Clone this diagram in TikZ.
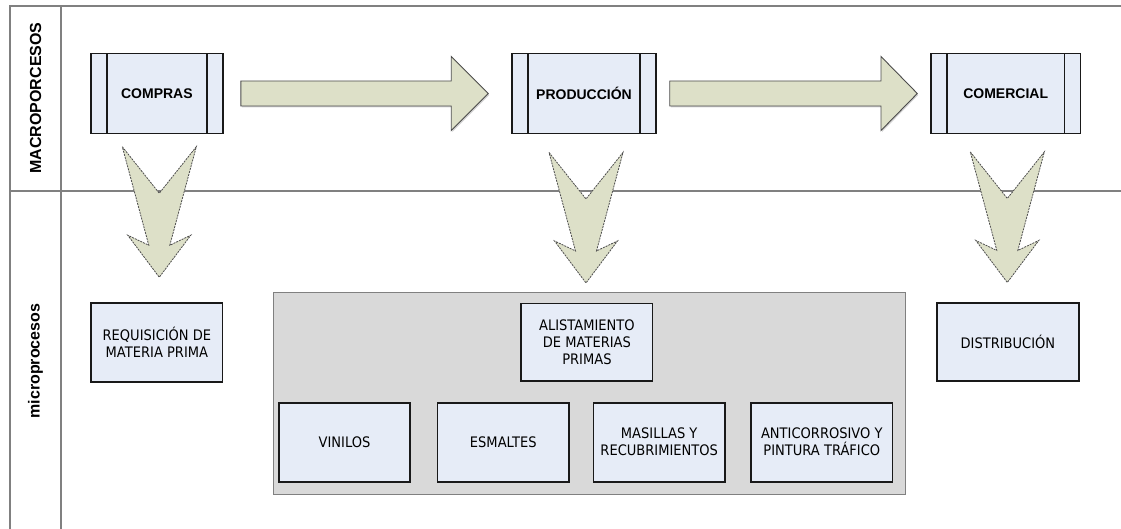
\documentclass[tikz,border=0pt]{standalone}
\usepackage{fontspec}
\setmainfont{Liberation Sans}
\newfontfamily\microfont[FakeStretch=0.9]{DejaVu Sans}
\usetikzlibrary{calc,shadows}
\definecolor{cajaazul}{RGB}{230,236,247}
\definecolor{flechaverde}{RGB}{221,224,200}
\definecolor{cajagris}{RGB}{217,217,217}
\definecolor{lineagris}{RGB}{128,128,128}
\tikzset{
proceso/.style={
macro/.style={draw=black!90, line width=1.5pt, fill=cajaazul, minimum height=80pt, inner sep=0pt,
  font=\fontsize{14}{16}\selectfont\bfseries,
  path picture={
    \draw[line width=1.5pt] ([xshift=16pt]path picture bounding box.north west) -- ([xshift=16pt]path picture bounding box.south west);
    \draw[line width=1.5pt] ([xshift=-16pt]path picture bounding box.north east) -- ([xshift=-16pt]path picture bounding box.south east);}},
micro/.style={draw=black!90, line width=1.6pt, fill=cajaazul, minimum width=131.5pt, minimum height=79pt,
  inner sep=0pt, align=center, font=\microfont\fontsize{14.5}{17}\selectfont},
fondo/.style={draw=lineagris, line width=1.3pt, fill=cajagris, inner sep=0pt},
carril/.style={rotate=90, font=\fontsize{16}{18}\selectfont\bfseries},
marco/.style={draw=lineagris, line width=1.3pt},
flecha/.style={draw=black!70, fill=flechaverde, line width=0.9pt,
  drop shadow={shadow xshift=1pt, shadow yshift=-1.5pt, opacity=0.35}},
flechabaja/.style={draw=black!70, fill=flechaverde, line width=0.8pt, dash pattern=on 2pt off 1pt},
}}

\begin{document}
\begin{tikzpicture}[proceso, x=1pt, y=-1pt]
\useasboundingbox (0,0) rectangle (1121,529);
% carriles
\draw[marco] (10,529) -- (10,6) -- (1121,6);
\draw[marco] (61,6) -- (61,529);
\draw[marco] (10,191) -- (1121,191);
\node[carril] (macro) at (35.5,98) {MACROPORCESOS};
\node[carril] (micro) at (35.5,361) {microprocesos};
%
\node[macro, minimum width=131.7pt] (compras) at (156.9,93.5) {COMPRAS};
\node[macro, minimum width=144pt] (produccion) at (584,93.5) {PRODUCCIÓN};
\node[macro, minimum width=149.3pt] (comercial) at (1005.7,93.5) {COMERCIAL};
%
\node[micro] (requisicion) at (156.9,342.2) {REQUISICIÓN DE\\MATERIA PRIMA};
\node[fondo, minimum width=632.4pt, minimum height=201.6pt] (grupo) at (589.5,393.5) {};
\node[micro, minimum height=77.7pt] (alistamiento) at (586.9,342.2) {ALISTAMIENTO\\DE MATERIAS\\PRIMAS};
\node[micro, minimum width=131pt] (vinilos) at (344.5,442.2) {VINILOS};
\node[micro] (esmaltes) at (503.3,442.2) {ESMALTES};
\node[micro] (masillas) at (659.2,442.2) {MASILLAS Y\\RECUBRIMIENTOS};
\node[micro, minimum width=141.7pt] (anticorrosivo) at (821.8,442.2) {ANTICORROSIVO Y\\PINTURA TRÁFICO};
\node[micro, minimum width=142.3pt, minimum height=78pt] (distribucion) at (1007.9,342) {DISTRIBUCIÓN};
%
\draw[flecha] ($(compras.east)+(17.3,-12.5)$) -- ($(produccion.west)+(-60,-12.5)$)
  -- ($(produccion.west)+(-60,-37)$) -- ($(produccion.west)+(-23,0)$)
  -- ($(produccion.west)+(-60,37)$) -- ($(produccion.west)+(-60,12.5)$)
  -- ($(compras.east)+(17.3,12.5)$) -- cycle;
\draw[flecha] ($(produccion.east)+(13,-12.5)$) -- ($(comercial.west)+(-49.3,-12.5)$)
  -- ($(comercial.west)+(-49.3,-37)$) -- ($(comercial.west)+(-13,0)$)
  -- ($(comercial.west)+(-49.3,37)$) -- ($(comercial.west)+(-49.3,12.5)$)
  -- ($(produccion.east)+(13,12.5)$) -- cycle;
%
\foreach \s/\dx/\dy in {compras/2.4/12.5, produccion/2/18.2, comercial/1.6/17.7}
  \draw[flechabaja, shift={($(\s.south)+(\dx,\dy)$)}] (-37,0) -- (0,46.5) -- (37,0)
    -- (10.5,98.5) -- (31.5,88.5) -- (0,130.5) -- (-31.5,88.5) -- (-10.5,98.5) -- cycle;
\end{tikzpicture}
\end{document}
